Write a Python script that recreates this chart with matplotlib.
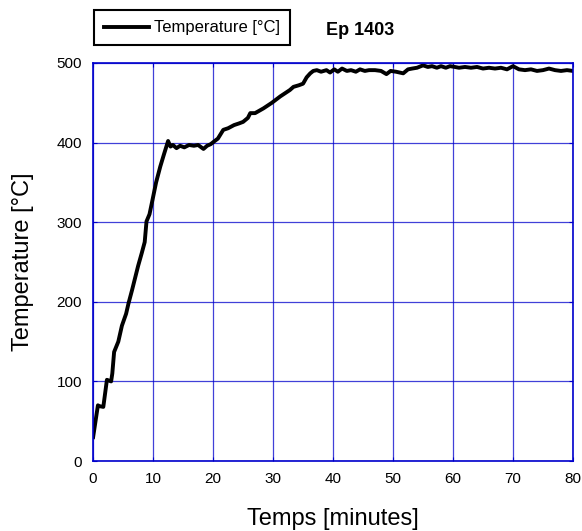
import numpy as np
import matplotlib.pyplot as plt

plt.rcParams['font.family'] = ['Liberation Sans', 'DejaVu Sans']

# values
temps_min = [0.0, 0.3, 0.8, 1.0, 1.7, 2.0, 2.3, 3.0, 3.2, 3.5, 4.2, 4.8, 5.5, 5.9,
             6.5, 7.0, 7.5, 8.1, 8.6, 8.9, 9.4, 9.9, 10.5, 11.2, 11.8, 12.5,
             12.9, 13.3, 13.9, 14.5, 15.2, 16.0, 16.8, 17.5, 18.4, 19.0, 19.6,
             20.1, 20.8, 21.7, 22.5, 23.5, 24.3, 25.0, 25.8, 26.2, 27.0, 28.4,
             29.0, 29.8, 30.5, 31.2, 32.0, 32.8, 33.4, 34.3, 35.0, 35.6, 36.2,
             36.7, 37.3, 38.0, 38.9, 39.5, 40.2, 40.8, 41.5, 42.3, 43.0, 43.8,
             44.5, 45.3, 46.0, 47.0, 48.0, 48.9, 49.6, 50.5, 51.7, 52.5, 53.2,
             54.0, 55.0, 55.8, 56.5, 57.3, 58.0, 58.8, 59.5, 60.3, 61.0, 62.0,
             63.0, 64.0, 65.0, 66.0, 67.0, 68.0, 69.0, 70.0, 71.0, 72.0, 73.0,
             74.0, 75.0, 76.0, 77.0, 78.0, 79.0, 80.0]
temperature = [30, 45, 70, 69, 68, 85, 102, 100, 110, 137, 150, 170, 185, 198,
               215, 230, 245, 261, 275, 301, 310, 328, 350, 370, 385, 402,
               395, 397, 393, 396, 394, 397, 396, 397, 392, 396, 398,
               401, 405, 416, 418, 422, 424, 426, 431, 437, 437, 443,
               446, 450, 454, 458, 462, 466, 470, 472, 474, 482, 487,
               490, 491, 489, 491, 488, 492, 489, 493, 490, 491, 489,
               492, 490, 491, 491, 490, 486, 490, 489, 487, 492, 493,
               494, 497, 495, 496, 494, 496, 494, 496, 495, 494, 495,
               494, 495, 493, 494, 493, 494, 492, 496, 492, 491, 492,
               490, 491, 493, 491, 490, 491, 490]

xticks = [0, 10, 20, 30, 40, 50, 60, 70, 80]
yticks = [0, 100, 200, 300, 400, 500]

blue = '#0000cc'

fig = plt.figure(figsize=(5.82, 5.31), dpi=100)
ax = fig.add_axes([0.16, 0.1318, 0.8245, 0.7496])

line, = ax.plot(temps_min, temperature, color='black', linewidth=2.8,
                solid_joinstyle='round')

ax.set_xlim(0, 80)
ax.set_ylim(0, 500)
ax.set_xticks(xticks)
ax.set_yticks(yticks)
ax.grid(True, color=blue, linewidth=0.9, alpha=0.75)
for sp in ax.spines.values():
    sp.set_color(blue)
    sp.set_linewidth(1.2)
ax.tick_params(direction='in', length=3, color=blue, top=True, right=True,
               labelsize=11, labelcolor='black', pad=8)

ax.set_xlabel('Temps [minutes]', fontsize=17)
ax.set_ylabel('Temperature [°C]', fontsize=17)
ax.xaxis.set_label_coords(0.5, -0.117)
ax.yaxis.set_label_coords(-0.124, 0.5)

leg = fig.legend([line], ['Temperature [°C]'], loc='upper left',
                 bbox_to_anchor=(0.148, 0.996), fontsize=12, fancybox=False,
                 edgecolor='black', framealpha=1, handlelength=2.7,
                 borderpad=0.6, handletextpad=0.3)
leg.get_frame().set_linewidth(1.5)

fig.text(0.618, 0.9435, 'Ep 1403', fontsize=13, fontweight='bold',
         ha='center', va='center')

fig.savefig('out.png', dpi=100)
plt.close()
